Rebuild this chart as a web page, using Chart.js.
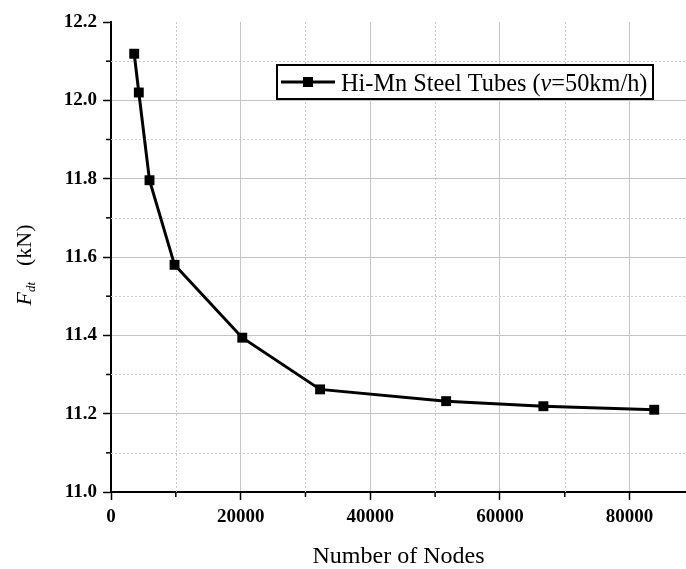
<!DOCTYPE html>
<html><head><meta charset="utf-8">
<script src="https://cdn.jsdelivr.net/npm/chart.js@4"></script>
<style>html,body{margin:0;padding:0;background:#fff;overflow:hidden}</style>
</head><body>
<canvas id="c" width="686" height="569"></canvas>
<script>
// ---- data ----
const nodes = [3580, 4290, 5940, 9800, 20250, 32250, 51700, 66700, 83800];
const force = [12.119, 12.020, 11.796, 11.580, 11.394, 11.262, 11.232, 11.219, 11.210];
const xTickValues = [0, 20000, 40000, 60000, 80000];
const yTickValues = [11.0, 11.2, 11.4, 11.6, 11.8, 12.0, 12.2];
const seriesLabel = ['Hi-Mn Steel Tubes (', 'v', '=50km/h)'];
const xTitle = 'Number of Nodes';
const yTitleParts = ['F', 'dt', '(kN)'];

const SERIF = "'Liberation Serif', 'Times New Roman', serif";

const minorPlugin = {
  id: 'minorGrid',
  beforeDatasetsDraw(chart) {
    const ctx = chart.ctx, a = chart.chartArea;
    const xs = chart.scales.x, ys = chart.scales.y;
    ctx.save();
    ctx.strokeStyle = '#c8c8c8';
    ctx.lineWidth = 1;
    ctx.setLineDash([2, 2]);
    const xm = minors(xs), ym = minors(ys);
    xm.forEach(v => { const p = Math.round(xs.getPixelForValue(v)) + 0.5;
      ctx.beginPath(); ctx.moveTo(p, a.top); ctx.lineTo(p, a.bottom); ctx.stroke(); });
    ym.forEach(v => { const p = Math.round(ys.getPixelForValue(v)) + 0.5;
      ctx.beginPath(); ctx.moveTo(a.left, p); ctx.lineTo(a.right, p); ctx.stroke(); });
    ctx.setLineDash([]);
    ctx.strokeStyle = '#000';
    ctx.lineWidth = 1.5;
    xm.forEach(v => { const p = xs.getPixelForValue(v);
      ctx.beginPath(); ctx.moveTo(p, a.bottom); ctx.lineTo(p, a.bottom + 5); ctx.stroke(); });
    ym.forEach(v => { const p = ys.getPixelForValue(v);
      ctx.beginPath(); ctx.moveTo(a.left, p); ctx.lineTo(a.left - 5, p); ctx.stroke(); });
    ctx.restore();
  }
};
function minors(scale) {
  const t = scale.ticks.map(k => k.value), out = [];
  for (let i = 0; i < t.length - 1; i++) out.push((t[i] + t[i + 1]) / 2);
  if (t.length > 1) { const nx = t[t.length - 1] + (t[1] - t[0]) / 2; if (nx <= scale.max) out.push(nx); }
  return out;
}

const labelsPlugin = {
  id: 'customLabels',
  afterDraw(chart) {
    const ctx = chart.ctx;
    // y-axis title with italic F and subscript
    ctx.save();
    ctx.fillStyle = '#000';
    ctx.textBaseline = 'alphabetic';
    const fMain = 'italic 22px ' + SERIF, fSub = 'italic 13px ' + SERIF, fReg = '22px ' + SERIF;
    ctx.font = fMain; const w1 = ctx.measureText(yTitleParts[0]).width;
    ctx.font = fSub; const w2 = ctx.measureText(yTitleParts[1]).width;
    ctx.font = fReg; const w3 = ctx.measureText(yTitleParts[2]).width;
    const gap = 16, total = w1 + w2 + gap + w3;
    ctx.translate(31, 265);
    ctx.rotate(-Math.PI / 2);
    let x0 = -total / 2;
    ctx.font = fMain; ctx.fillText(yTitleParts[0], x0, 0); x0 += w1;
    ctx.font = fSub; ctx.fillText(yTitleParts[1], x0, 4); x0 += w2 + gap;
    ctx.font = fReg; ctx.fillText(yTitleParts[2], x0, 0);
    ctx.restore();

    // legend box
    const bx = 277, by = 65, bw = 376, bh = 34;
    ctx.save();
    ctx.fillStyle = '#fff';
    ctx.fillRect(bx, by, bw, bh);
    ctx.strokeStyle = '#000'; ctx.lineWidth = 2;
    ctx.strokeRect(bx, by, bw, bh);
    const ly = by + bh / 2;
    ctx.lineWidth = 3;
    ctx.beginPath(); ctx.moveTo(281, ly); ctx.lineTo(335, ly); ctx.stroke();
    ctx.fillStyle = '#000';
    ctx.fillRect(303, ly - 5, 10, 10);
    ctx.textBaseline = 'alphabetic';
    let tx = 341; const ty = by + 26;
    const fs = '24.3px ';
    ctx.font = fs + SERIF; ctx.fillText(seriesLabel[0], tx, ty); tx += ctx.measureText(seriesLabel[0]).width;
    ctx.font = 'italic ' + fs + SERIF; ctx.fillText(seriesLabel[1], tx, ty); tx += ctx.measureText(seriesLabel[1]).width;
    ctx.font = fs + SERIF; ctx.fillText(seriesLabel[2], tx, ty);
    ctx.restore();
  }
};

new Chart(document.getElementById('c'), {
  type: 'line',
  data: {
    datasets: [{
      label: seriesLabel.join(''),
      data: nodes.map((n, i) => ({ x: n, y: force[i] })),
      borderColor: '#000',
      backgroundColor: '#000',
      borderWidth: 3,
      pointStyle: 'rect',
      pointRadius: 7,
      pointBorderWidth: 0,
      tension: 0,
      clip: false
    }]
  },
  options: {
    responsive: false,
    animation: false,
    events: [],
    layout: { autoPadding: false, padding: { top: 22, right: 0, left: 0, bottom: 0 } },
    plugins: { legend: { display: false }, tooltip: { enabled: false } },
    scales: {
      x: {
        type: 'linear',
        min: 0, max: 88700,
        afterBuildTicks: s => { s.ticks = xTickValues.map(v => ({ value: v })); },
        afterFit: s => { s.height = 77; s.paddingRight = 0; s.paddingLeft = 0; },
        ticks: {
          color: '#000',
          padding: 6,
          maxRotation: 0,
          autoSkip: false,
          font: { family: SERIF, size: 19, weight: 'bold' },
          callback: v => String(v)
        },
        grid: {
          color: '#c4c4c4',
          lineWidth: 1,
          tickColor: '#000',
          tickWidth: 1.5,
          tickLength: 8
        },
        border: { color: '#000', width: 2 },
        title: {
          display: true,
          text: xTitle,
          color: '#000',
          font: { family: SERIF, size: 24, lineHeight: 1 },
          padding: 0
        }
      },
      y: {
        type: 'linear',
        min: 11.0, max: 12.2,
        afterBuildTicks: s => { s.ticks = yTickValues.map(v => ({ value: v })); },
        afterFit: s => { s.width = 111; s.paddingTop = 0; s.paddingBottom = 0; },
        ticks: {
          color: '#000',
          padding: 6,
          autoSkip: false,
          font: { family: SERIF, size: 19, weight: 'bold' },
          callback: v => Number(v).toFixed(1)
        },
        grid: {
          color: c => (c.tick && Math.abs(c.tick.value - 12.2) < 1e-6) ? 'rgba(0,0,0,0)' : '#c4c4c4',
          lineWidth: 1,
          tickColor: '#000',
          tickWidth: 1.5,
          tickLength: 8
        },
        border: { color: '#000', width: 2 }
      }
    }
  },
  plugins: [minorPlugin, labelsPlugin]
});
</script>
</body></html>
